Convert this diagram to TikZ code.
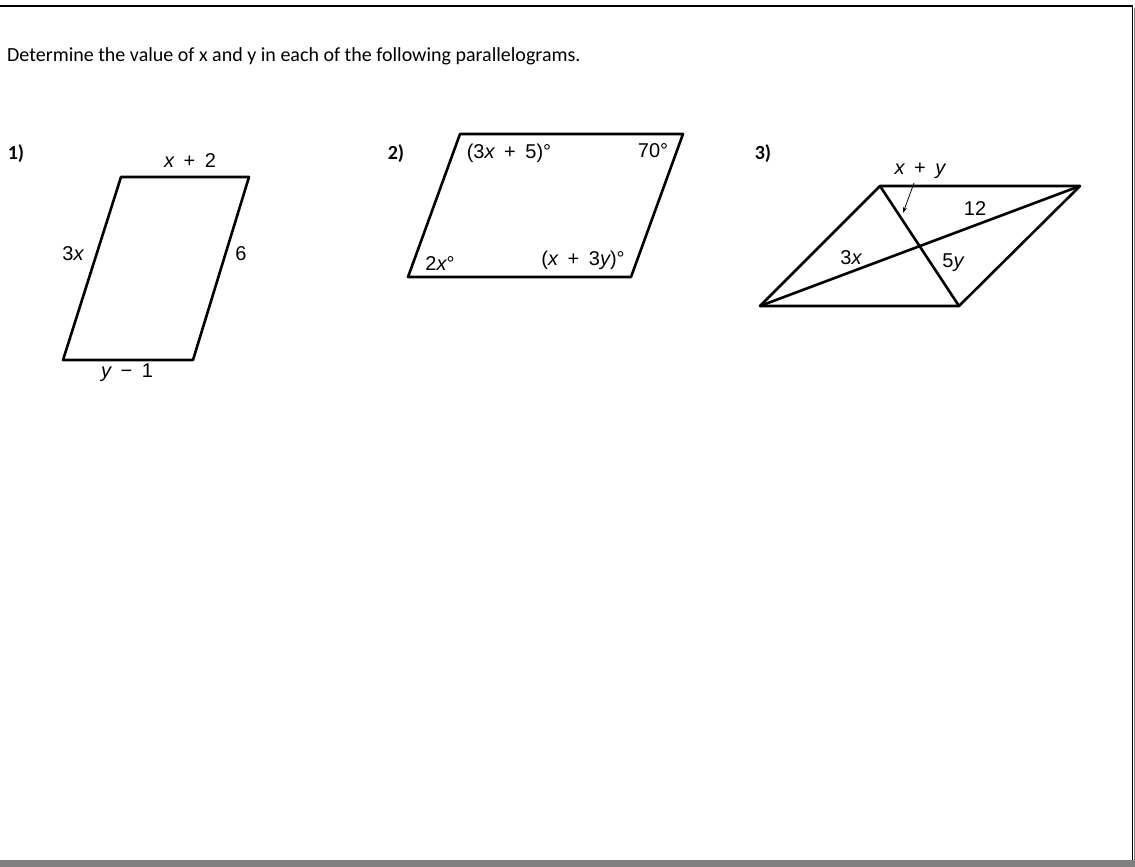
\documentclass[tikz,border=0pt]{standalone}
\usepackage{fontspec}
\setmainfont{Liberation Sans}
\newfontfamily\titlefont{Carlito}
\usetikzlibrary{arrows.meta}
\newcommand\vx{{\itshape x}}
\newcommand\vy{{\itshape y}}
\newcommand\gp{\hspace{0.48em}}
\tikzset{
  pgram/.style={line width=2.6pt, line join=round},
  lbl/.style={inner sep=0pt, font=\fontsize{20}{24}\selectfont},
  num/.style={inner sep=0pt, font=\titlefont\bfseries\fontsize{20}{24}\selectfont},
  ptr/.style={line width=0.8pt, -{Stealth[length=6pt,width=4pt]}}
}
\begin{document}
\begin{tikzpicture}[x=1pt,y=-1pt]
\useasboundingbox (0,0) rectangle (1135,867);
% page frame
\fill[gray] (0,860) rectangle (1135,867);
\fill[gray] (1133.5,8) rectangle (1135,867);
\draw[line width=1.5pt] (0,6) -- (1132.5,6) -- (1132.5,860);
% title
\node[anchor=west, inner sep=0pt, font=\titlefont\fontsize{20}{24}\selectfont] (title) at (7,56)
  {Determine the value of x and y in each of the following parallelograms.};

% 1)
\node[num] (n1) at (16,154) {1)};
\coordinate (A1) at (121,177);
\coordinate (B1) at (249,177);
\coordinate (C1) at (193,360);
\coordinate (D1) at (63,360);
\draw[pgram] (A1) -- (B1) -- (C1) -- (D1) -- cycle;
\node[lbl] (t1a) at (190,161) {\vx\gp+\gp2};
\node[lbl] (t1b) at (73,254) {3\vx};
\node[lbl] (t1c) at (241,254) {6};
\node[lbl] (t1d) at (127,373) {\vy\gp−\gp1};

% 2)
\node[num] (n2) at (396,154) {2)};
\coordinate (A2) at (460,134);
\coordinate (B2) at (683,134);
\coordinate (C2) at (631,277);
\coordinate (D2) at (408,277);
\draw[pgram] (A2) -- (B2) -- (C2) -- (D2) -- cycle;
\node[lbl] (t2a) at (509,153) {(3\vx\gp+\gp5)°};
\node[lbl] (t2b) at (653,151) {70°};
\node[lbl] (t2c) at (440,264) {2\vx°};
\node[lbl] (t2d) at (583,260) {(\vx\gp+\gp3\vy)°};

% 3)
\node[num] (n3) at (763,154) {3)};
\coordinate (A3) at (880,186);
\coordinate (B3) at (1080,186);
\coordinate (C3) at (959,306);
\coordinate (D3) at (760,306);
\draw[pgram] (A3) -- (B3) -- (C3) -- (D3) -- cycle;
\draw[pgram] (A3) -- (C3);
\draw[pgram] (D3) -- (B3);
\node[lbl] (t3a) at (920,171) {\vx\gp+\gp\vy};
\node[lbl] (t3b) at (975,209) {12};
\node[lbl] (t3c) at (851,258) {3\vx};
\node[lbl] (t3d) at (953,263) {5\vy};
\coordinate (P0) at (914,183);
\coordinate (P1) at (903,213);
\draw[ptr] (P0) -- (P1);
\end{tikzpicture}
\end{document}
